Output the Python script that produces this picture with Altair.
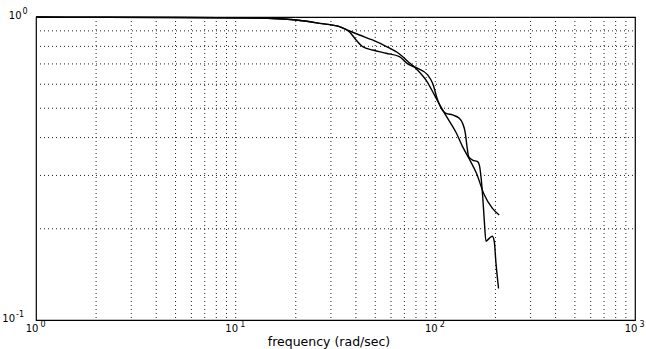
import altair as alt
import pandas as pd

# --- data ---
smooth_freq = [1, 2.09, 5.25, 12.7, 20.1, 26.3, 33.1, 37.2, 41.7, 48.4, 56.9, 66.1, 72.4,
               81.3, 91.2, 98.9, 105.9, 113.5, 127.4, 136.5, 147.9, 160.3, 175.8, 192.8, 208.9]
smooth_mag = [1.0, 0.9985, 0.996, 0.992, 0.977, 0.953, 0.929, 0.899, 0.872, 0.840, 0.799, 0.755, 0.716,
              0.669, 0.610, 0.553, 0.509, 0.471, 0.414, 0.375, 0.340, 0.306, 0.259, 0.234, 0.222]

wiggly_freq = [1, 2.09, 5.25, 12.7, 20.1, 26.3, 33.1, 37.2, 40.1, 43.3, 48.6, 56.7, 66.1, 72.7,
               81.6, 91.5, 96.9, 102.7, 108.4, 113.1, 122.0, 131.8, 136.9, 141.3, 144.1, 146.8,
               153.7, 162.7, 166.0, 169.3, 172.4, 175.8, 179.3, 186.2, 192.8, 197.2, 201.1, 207.3]
wiggly_mag = [1.0, 0.9985, 0.996, 0.992, 0.977, 0.953, 0.929, 0.892, 0.840, 0.798, 0.778, 0.759, 0.740, 0.700,
              0.677, 0.644, 0.604, 0.532, 0.493, 0.481, 0.475, 0.463, 0.446, 0.414, 0.373, 0.346,
              0.337, 0.333, 0.325, 0.297, 0.259, 0.214, 0.182, 0.186, 0.189, 0.182, 0.155, 0.127]

x_tick_values = [1, 10, 100, 1000]
x_tick_exponents = ["0", "1", "2", "3"]
y_tick_values = [0.1, 1]
y_tick_exponents = ["-1", "0"]
x_grid_values = [2, 3, 4, 5, 6, 7, 8, 9, 10, 20, 30, 40, 50, 60, 70, 80, 90,
                 100, 200, 300, 400, 500, 600, 700, 800, 900]
y_grid_values = [0.2, 0.3, 0.4, 0.5, 0.6, 0.7, 0.8, 0.9]
x_title = "frequency (rad/sec)"

lines = pd.concat([
    pd.DataFrame({"f": smooth_freq, "m": smooth_mag, "s": "smooth"}),
    pd.DataFrame({"f": wiggly_freq, "m": wiggly_mag, "s": "wiggly"}),
])
xt = pd.DataFrame({"v": x_tick_values, "e": x_tick_exponents, "b": "10"})
xg = pd.DataFrame({"v": x_grid_values})
yg = pd.DataFrame({"v": y_grid_values})

xscale = alt.Scale(type="log", domain=[1, 1000], nice=False)
yscale = alt.Scale(type="log", domain=[0.1, 1], nice=False)

FONT = "DejaVu Sans"
W, H = 599, 303
GRID = dict(color="#222", strokeWidth=1, strokeDash=[1, 3])

xgrid = alt.Chart(xg).mark_rule(**GRID).encode(
    x=alt.X("v:Q", scale=xscale, axis=None), y=alt.value(0), y2=alt.value(H))
ygrid = alt.Chart(yg).mark_rule(**GRID).encode(
    y=alt.Y("v:Q", scale=yscale, axis=None), x=alt.value(0), x2=alt.value(W))

line_layer = alt.Chart(lines).mark_line(
    color="black", strokeWidth=1.4, interpolate="monotone"
).encode(
    x=alt.X("f:Q", scale=xscale, axis=None),
    y=alt.Y("m:Q", scale=yscale, axis=None),
    detail="s:N",
)

xbase = alt.Chart(xt).mark_text(
    font=FONT, fontSize=10, color="black", align="center", baseline="alphabetic", dx=-4
).encode(x=alt.X("v:Q", scale=xscale, axis=None), y=alt.value(H + 12), text="b:N")
xexp = alt.Chart(xt).mark_text(
    font=FONT, fontSize=8, color="black", align="left", baseline="alphabetic", dx=4.5
).encode(x=alt.X("v:Q", scale=xscale, axis=None), y=alt.value(H + 6.5), text="e:N")

ylabel_layers = []
for v, e in zip(y_tick_values, y_tick_exponents):
    right = -8 - 6.5 * len(e)
    d = pd.DataFrame({"v": [v], "e": [e], "b": ["10"]})
    ylabel_layers.append(alt.Chart(d).mark_text(
        font=FONT, fontSize=10, color="black", align="right", baseline="middle", dy=-1
    ).encode(x=alt.value(right), y=alt.Y("v:Q", scale=yscale, axis=None), text="b:N"))
    ylabel_layers.append(alt.Chart(d).mark_text(
        font=FONT, fontSize=8, color="black", align="left", baseline="middle", dy=-5
    ).encode(x=alt.value(right + 1), y=alt.Y("v:Q", scale=yscale, axis=None), text="e:N"))

title_layer = alt.Chart(pd.DataFrame({"t": [x_title]})).mark_text(
    font=FONT, fontSize=12.5, color="black", align="center", baseline="alphabetic"
).encode(x=alt.value(293), y=alt.value(H + 25.5), text="t:N")

chart = alt.layer(xgrid, ygrid, line_layer, xbase, xexp, *ylabel_layers, title_layer).properties(
    width=W, height=H,
    autosize=alt.AutoSizeParams(type="none"),
    padding={"left": 36, "top": 17, "right": 11, "bottom": 29},
    background="white",
).configure_view(stroke="black", strokeWidth=1.2)

chart.save("out.html", embed_options={"renderer": "svg", "actions": False})
